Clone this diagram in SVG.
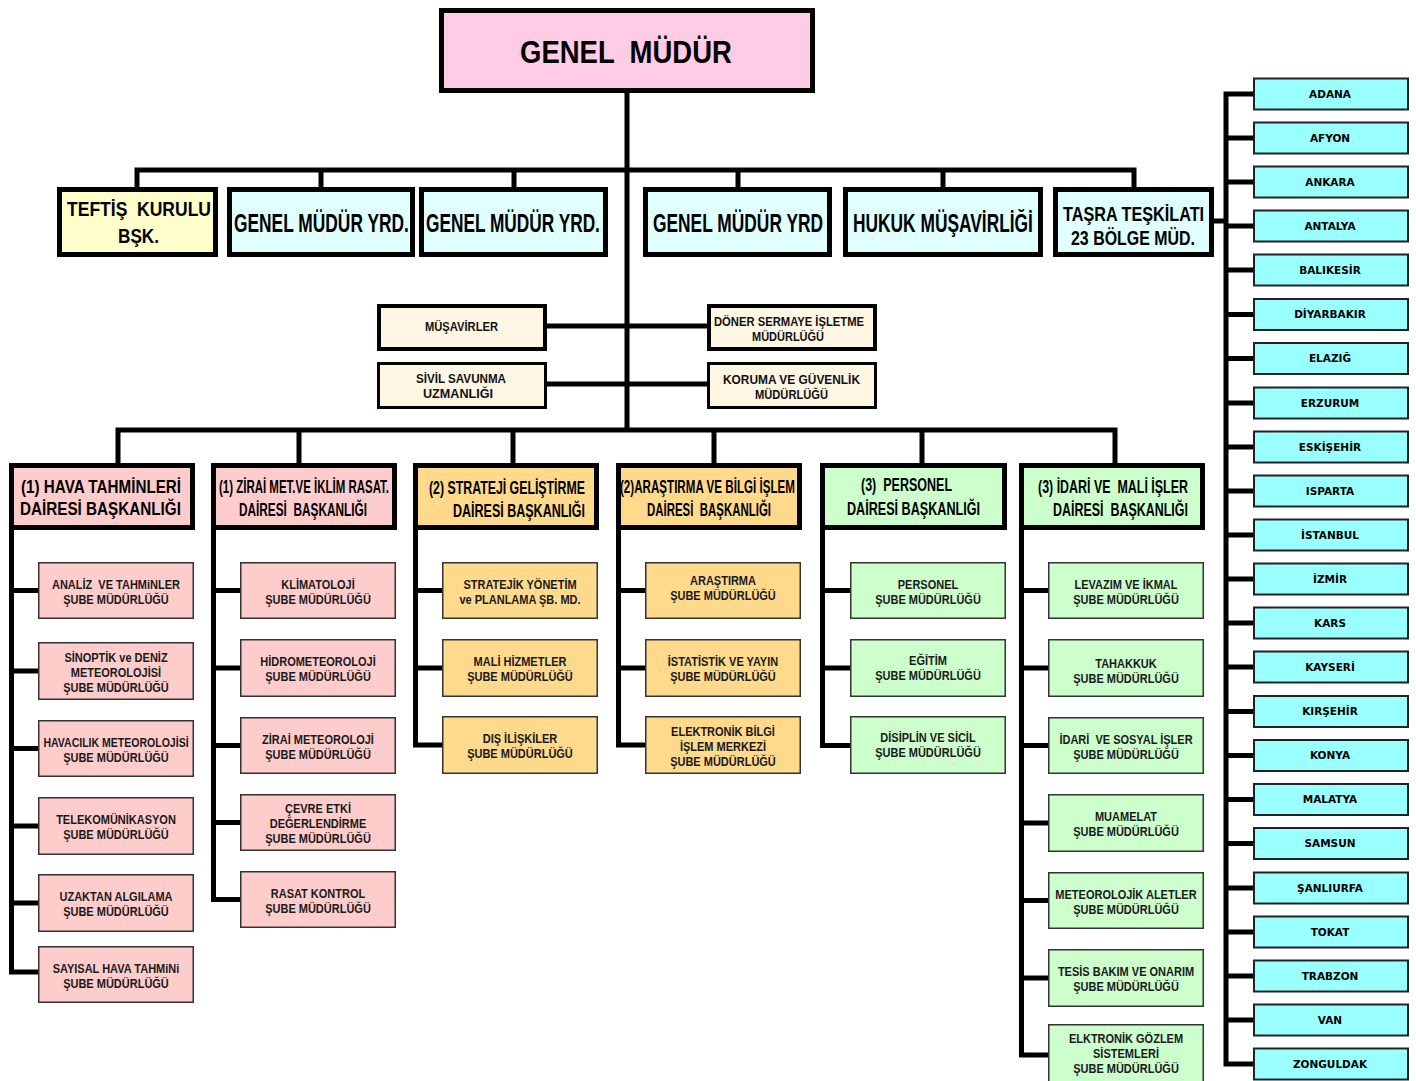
<svg xmlns="http://www.w3.org/2000/svg" width="1416" height="1081" viewBox="0 0 1416 1081">
<style>
.ln{fill:none;stroke:#000;stroke-width:5;stroke-linejoin:miter}
.b5{stroke:#000;stroke-width:5}
.b4{stroke:#000;stroke-width:4}
.b3{stroke:#000;stroke-width:3}
.b1{stroke:#333;stroke-width:1.5}
.b2{stroke:#222;stroke-width:2}
.pk{fill:#FFCCE6}.ye{fill:#FFFFCC}.cy{fill:#E0FFFF}.cr{fill:#FFF6E3}
.rs{fill:#FFCCCC}.or{fill:#FFD98C}.gr{fill:#CCFFCC}.ct{fill:#99FFFF}
.h{font-family:'Liberation Sans',Arial,sans-serif;font-weight:bold;fill:#000;white-space:pre}
.m{font-family:'Liberation Sans',Arial,sans-serif;font-weight:bold;font-size:12px;fill:#111}
.s{font-family:'Liberation Sans',Arial,sans-serif;font-weight:bold;font-size:12.5px;fill:#1a1a1a;text-anchor:middle;transform:scale(0.88,1);white-space:pre}
.c{font-family:'DejaVu Sans',sans-serif;font-weight:bold;font-size:10.5px;fill:#000;text-anchor:middle}
</style>

<g id="connectors">
<path class="ln" d="M627 92V430"/>
<path class="ln" d="M137 187V170H1134V187M321 170V187M514 170V187M738 170V187M943 170V187"/>
<path class="ln" d="M546 326H707M546 384H707"/>
<path class="ln" d="M118 463V430H1115V463M299 430V463M513 430V463M714 430V463M922 430V463"/>
<path class="ln" d="M11.5 529V972H38M11.5 590.5H38M11.5 671H38M11.5 748.5H38M11.5 826H38M11.5 903H38"/>
<path class="ln" d="M213.5 529V899.5H240M213.5 590.5H240M213.5 668H240M213.5 745.5H240M213.5 822.5H240"/>
<path class="ln" d="M415.5 529V745H442M415.5 590.5H442M415.5 668H442"/>
<path class="ln" d="M618.5 529V745H645M618.5 590.5H645M618.5 668H645"/>
<path class="ln" d="M822.5 529V745.5H850M822.5 590.5H850M822.5 668H850"/>
<path class="ln" d="M1021.5 529V1055H1048M1021.5 590.5H1048M1021.5 668H1048M1021.5 745.5H1048M1021.5 823H1048M1021.5 900.5H1048M1021.5 978H1048"/>
<path class="ln" d="M1213 221H1226M1253 94H1226V1064H1253M1226 138H1253M1226 182H1253M1226 226H1253M1226 270H1253M1226 314.5H1253M1226 358.5H1253M1226 403H1253M1226 447H1253M1226 491H1253M1226 535H1253M1226 579H1253M1226 623H1253M1226 667H1253M1226 711.5H1253M1226 755.5H1253M1226 799.5H1253M1226 843.5H1253M1226 888H1253M1226 932H1253M1226 976H1253M1226 1020H1253"/>
</g>

<g id="genel-mudur"><rect class="pk b5" x="441.5" y="10.5" width="371" height="80"/>
<text class="h" transform="translate(520 63) scale(0.858 1)" font-size="32" textLength="247" lengthAdjust="spacingAndGlyphs">GENEL  MÜDÜR</text></g>

<g id="teftis"><rect class="ye b5" x="59.5" y="189.5" width="156" height="65"/>
<text class="h" transform="translate(67 216) scale(0.834 1)" font-size="21" textLength="172.7" lengthAdjust="spacingAndGlyphs">TEFTİŞ  KURULU</text>
<text class="h" transform="translate(118 243) scale(0.817 1)" font-size="21" textLength="50.2" lengthAdjust="spacingAndGlyphs">BŞK.</text></g>
<g id="gmy1"><rect class="cy b5" x="229.5" y="189.5" width="183" height="65"/>
<text class="h" transform="translate(234 232) scale(0.692 1)" font-size="25" textLength="252.8" lengthAdjust="spacingAndGlyphs">GENEL MÜDÜR YRD.</text></g>
<g id="gmy2"><rect class="cy b5" x="421.5" y="189.5" width="184" height="65"/>
<text class="h" transform="translate(426 232) scale(0.688 1)" font-size="25" textLength="252.8" lengthAdjust="spacingAndGlyphs">GENEL MÜDÜR YRD.</text></g>
<g id="gmy3"><rect class="cy b5" x="645.5" y="189.5" width="184" height="65"/>
<text class="h" transform="translate(653 232) scale(0.692 1)" font-size="25" textLength="245.8" lengthAdjust="spacingAndGlyphs">GENEL MÜDÜR YRD</text></g>
<g id="hukuk"><rect class="cy b5" x="845.5" y="189.5" width="195" height="65"/>
<text class="h" transform="translate(853 232) scale(0.689 1)" font-size="25" textLength="261.1" lengthAdjust="spacingAndGlyphs">HUKUK MÜŞAVİRLİĞİ</text></g>
<g id="tasra"><rect class="cy b5" x="1055.5" y="189.5" width="156" height="65"/>
<text class="h" transform="translate(1063 221) scale(0.814 1)" font-size="19.5" textLength="173.3" lengthAdjust="spacingAndGlyphs">TAŞRA TEŞKİLATI</text>
<text class="h" transform="translate(1071 245) scale(0.817 1)" font-size="19.5" textLength="151.7" lengthAdjust="spacingAndGlyphs">23 BÖLGE MÜD.</text></g>

<g id="musavirler"><rect class="cr b4" x="379" y="306" width="166" height="43"/>
<text class="m" x="425" y="331" textLength="73" lengthAdjust="spacingAndGlyphs">MÜŞAVİRLER</text></g>
<g id="doner"><rect class="cr b4" x="709" y="306" width="166" height="43"/>
<text class="m" x="714" y="325.5" textLength="150" lengthAdjust="spacingAndGlyphs">DÖNER SERMAYE İŞLETME</text>
<text class="m" x="752" y="341" textLength="72" lengthAdjust="spacingAndGlyphs">MÜDÜRLÜĞÜ</text></g>
<g id="sivil"><rect class="cr b3" x="378.5" y="363.5" width="167" height="44"/>
<text class="m" x="416" y="383" textLength="90" lengthAdjust="spacingAndGlyphs">SİVİL SAVUNMA</text>
<text class="m" x="423" y="398" textLength="70" lengthAdjust="spacingAndGlyphs">UZMANLIĞI</text></g>
<g id="koruma"><rect class="cr b3" x="708.5" y="363.5" width="167" height="44"/>
<text class="m" x="723" y="384" textLength="137" lengthAdjust="spacingAndGlyphs">KORUMA VE GÜVENLİK</text>
<text class="m" x="755" y="399" textLength="73" lengthAdjust="spacingAndGlyphs">MÜDÜRLÜĞÜ</text></g>

<g id="d1"><rect class="rs b5" x="11.5" y="465.5" width="181" height="62"/>
<text class="h" transform="translate(21 492.5) scale(0.825 1)" font-size="18" textLength="194" lengthAdjust="spacingAndGlyphs">(1) HAVA TAHMİNLERİ</text>
<text class="h" transform="translate(20 514.5) scale(0.847 1)" font-size="18" textLength="190" lengthAdjust="spacingAndGlyphs">DAİRESİ BAŞKANLIĞI</text></g>
<g id="d2"><rect class="rs b5" x="213.5" y="465.5" width="181" height="62"/>
<text class="h" transform="translate(219 493) scale(0.625 1)" font-size="18" textLength="272" lengthAdjust="spacingAndGlyphs">(1) ZİRAİ MET.VE İKLİM RASAT.</text>
<text class="h" transform="translate(239 515.5) scale(0.656 1)" font-size="18" textLength="195" lengthAdjust="spacingAndGlyphs">DAİRESİ  BAŞKANLIĞI</text></g>
<g id="d3"><rect class="or b5" x="415.5" y="465.5" width="181" height="62"/>
<text class="h" transform="translate(429 494) scale(0.681 1)" font-size="18" textLength="229" lengthAdjust="spacingAndGlyphs">(2) STRATEJİ GELİŞTİRME</text>
<text class="h" transform="translate(453 516.5) scale(0.695 1)" font-size="18" textLength="190" lengthAdjust="spacingAndGlyphs">DAİRESİ BAŞKANLIĞI</text></g>
<g id="d4"><rect class="or b5" x="618.5" y="465.5" width="181" height="62"/>
<text class="h" transform="translate(620 493) scale(0.643 1)" font-size="18" textLength="272" lengthAdjust="spacingAndGlyphs">(2)ARAŞTIRMA VE BİLGİ İŞLEM</text>
<text class="h" transform="translate(647 515.5) scale(0.636 1)" font-size="18" textLength="195" lengthAdjust="spacingAndGlyphs">DAİRESİ  BAŞKANLIĞI</text></g>
<g id="d5"><rect class="gr b5" x="822.5" y="465.5" width="182" height="62"/>
<text class="h" transform="translate(861 491) scale(0.695 1)" font-size="18" textLength="131" lengthAdjust="spacingAndGlyphs">(3)  PERSONEL</text>
<text class="h" transform="translate(847 514.5) scale(0.7 1)" font-size="18" textLength="190" lengthAdjust="spacingAndGlyphs">DAİRESİ BAŞKANLIĞI</text></g>
<g id="d6"><rect class="gr b5" x="1021.5" y="465.5" width="181" height="62"/>
<text class="h" transform="translate(1038 493) scale(0.691 1)" font-size="18" textLength="217" lengthAdjust="spacingAndGlyphs">(3) İDARİ VE  MALİ İŞLER</text>
<text class="h" transform="translate(1053 515.5) scale(0.692 1)" font-size="18" textLength="195" lengthAdjust="spacingAndGlyphs">DAİRESİ  BAŞKANLIĞI</text></g>

<g id="c1-1"><rect class="rs b1" x="38.75" y="562.75" width="154.5" height="55.5"/>
<text class="s" x="131.82" y="589">ANALİZ  VE TAHMiNLER</text><text class="s" x="131.82" y="604">ŞUBE MÜDÜRLÜĞÜ</text></g>
<g id="c1-2"><rect class="rs b1" x="38.75" y="642.75" width="154.5" height="56.5"/>
<text class="s" x="131.82" y="662">SİNOPTİK ve DENİZ</text><text class="s" x="131.82" y="677">METEOROLOJİSİ</text><text class="s" x="131.82" y="692">ŞUBE MÜDÜRLÜĞÜ</text></g>
<g id="c1-3"><rect class="rs b1" x="38.75" y="720.75" width="154.5" height="55.5"/>
<text class="s" x="131.82" y="747" textLength="165" lengthAdjust="spacingAndGlyphs">HAVACILIK METEOROLOJİSİ</text><text class="s" x="131.82" y="762">ŞUBE MÜDÜRLÜĞÜ</text></g>
<g id="c1-4"><rect class="rs b1" x="38.75" y="797.75" width="154.5" height="56.5"/>
<text class="s" x="131.82" y="824.5">TELEKOMÜNİKASYON</text><text class="s" x="131.82" y="839.5">ŞUBE MÜDÜRLÜĞÜ</text></g>
<g id="c1-5"><rect class="rs b1" x="38.75" y="874.75" width="154.5" height="56.5"/>
<text class="s" x="131.82" y="901.5">UZAKTAN ALGILAMA</text><text class="s" x="131.82" y="916.5">ŞUBE MÜDÜRLÜĞÜ</text></g>
<g id="c1-6"><rect class="rs b1" x="38.75" y="946.75" width="154.5" height="55.5"/>
<text class="s" x="131.82" y="973">SAYISAL HAVA TAHMiNi</text><text class="s" x="131.82" y="988">ŞUBE MÜDÜRLÜĞÜ</text></g>

<g id="c2-1"><rect class="rs b1" x="240.75" y="562.75" width="154.5" height="55.5"/>
<text class="s" x="361.36" y="589">KLİMATOLOJİ</text><text class="s" x="361.36" y="604">ŞUBE MÜDÜRLÜĞÜ</text></g>
<g id="c2-2"><rect class="rs b1" x="240.75" y="639.75" width="154.5" height="56.5"/>
<text class="s" x="361.36" y="666.5">HİDROMETEOROLOJİ</text><text class="s" x="361.36" y="681.5">ŞUBE MÜDÜRLÜĞÜ</text></g>
<g id="c2-3"><rect class="rs b1" x="240.75" y="717.75" width="154.5" height="55.5"/>
<text class="s" x="361.36" y="744">ZİRAİ METEOROLOJİ</text><text class="s" x="361.36" y="759">ŞUBE MÜDÜRLÜĞÜ</text></g>
<g id="c2-4"><rect class="rs b1" x="240.75" y="794.75" width="154.5" height="55.5"/>
<text class="s" x="361.36" y="813.5">ÇEVRE ETKİ</text><text class="s" x="361.36" y="828.5">DEĞERLENDİRME</text><text class="s" x="361.36" y="843.5">ŞUBE MÜDÜRLÜĞÜ</text></g>
<g id="c2-5"><rect class="rs b1" x="240.75" y="871.75" width="154.5" height="55.5"/>
<text class="s" x="361.36" y="898">RASAT KONTROL</text><text class="s" x="361.36" y="913">ŞUBE MÜDÜRLÜĞÜ</text></g>

<g id="c3-1"><rect class="or b1" x="442.75" y="562.75" width="154.5" height="55.5"/>
<text class="s" x="590.91" y="589">STRATEJİK YÖNETİM</text><text class="s" x="590.91" y="604">ve PLANLAMA ŞB. MD.</text></g>
<g id="c3-2"><rect class="or b1" x="442.75" y="639.75" width="154.5" height="56.5"/>
<text class="s" x="590.91" y="666.5">MALİ HİZMETLER</text><text class="s" x="590.91" y="681.5">ŞUBE MÜDÜRLÜĞÜ</text></g>
<g id="c3-3"><rect class="or b1" x="442.75" y="716.75" width="154.5" height="56.5"/>
<text class="s" x="590.91" y="743.5">DIŞ İLİŞKİLER</text><text class="s" x="590.91" y="758.5">ŞUBE MÜDÜRLÜĞÜ</text></g>

<g id="c4-1"><rect class="or b1" x="645.75" y="562.75" width="154.5" height="55.5"/>
<text class="s" x="821.59" y="585.5">ARAŞTIRMA</text><text class="s" x="821.59" y="600.5">ŞUBE MÜDÜRLÜĞÜ</text></g>
<g id="c4-2"><rect class="or b1" x="645.75" y="639.75" width="154.5" height="56.5"/>
<text class="s" x="821.59" y="666.5">İSTATİSTİK VE YAYIN</text><text class="s" x="821.59" y="681.5">ŞUBE MÜDÜRLÜĞÜ</text></g>
<g id="c4-3"><rect class="or b1" x="645.75" y="716.75" width="154.5" height="56.5"/>
<text class="s" x="821.59" y="736">ELEKTRONİK BİLGİ</text><text class="s" x="821.59" y="751">İŞLEM MERKEZİ</text><text class="s" x="821.59" y="766">ŞUBE MÜDÜRLÜĞÜ</text></g>

<g id="c5-1"><rect class="gr b1" x="850.75" y="562.75" width="154.5" height="55.5"/>
<text class="s" x="1054.55" y="589">PERSONEL</text><text class="s" x="1054.55" y="604">ŞUBE MÜDÜRLÜĞÜ</text></g>
<g id="c5-2"><rect class="gr b1" x="850.75" y="639.75" width="154.5" height="56.5"/>
<text class="s" x="1054.55" y="665">EĞİTİM</text><text class="s" x="1054.55" y="680">ŞUBE MÜDÜRLÜĞÜ</text></g>
<g id="c5-3"><rect class="gr b1" x="850.75" y="716.75" width="154.5" height="56.5"/>
<text class="s" x="1054.55" y="742">DİSİPLİN VE SİCİL</text><text class="s" x="1054.55" y="757">ŞUBE MÜDÜRLÜĞÜ</text></g>

<g id="c6-1"><rect class="gr b1" x="1048.75" y="562.75" width="154.5" height="55.5"/>
<text class="s" x="1279.55" y="589">LEVAZIM VE İKMAL</text><text class="s" x="1279.55" y="604">ŞUBE MÜDÜRLÜĞÜ</text></g>
<g id="c6-2"><rect class="gr b1" x="1048.75" y="639.75" width="154.5" height="56.5"/>
<text class="s" x="1279.55" y="668">TAHAKKUK</text><text class="s" x="1279.55" y="683">ŞUBE MÜDÜRLÜĞÜ</text></g>
<g id="c6-3"><rect class="gr b1" x="1048.75" y="717.75" width="154.5" height="55.5"/>
<text class="s" x="1279.55" y="744">İDARİ  VE SOSYAL İŞLER</text><text class="s" x="1279.55" y="759">ŞUBE MÜDÜRLÜĞÜ</text></g>
<g id="c6-4"><rect class="gr b1" x="1048.75" y="794.75" width="154.5" height="56.5"/>
<text class="s" x="1279.55" y="821">MUAMELAT</text><text class="s" x="1279.55" y="836">ŞUBE MÜDÜRLÜĞÜ</text></g>
<g id="c6-5"><rect class="gr b1" x="1048.75" y="872.75" width="154.5" height="55.5"/>
<text class="s" x="1279.55" y="899">METEOROLOJİK ALETLER</text><text class="s" x="1279.55" y="914">ŞUBE MÜDÜRLÜĞÜ</text></g>
<g id="c6-6"><rect class="gr b1" x="1048.75" y="949.75" width="154.5" height="56.5"/>
<text class="s" x="1279.55" y="976.5">TESİS BAKIM VE ONARIM</text><text class="s" x="1279.55" y="991.5">ŞUBE MÜDÜRLÜĞÜ</text></g>
<g id="c6-7"><rect class="gr b1" x="1048.75" y="1024.75" width="154.5" height="57"/>
<text class="s" x="1279.55" y="1043">ELKTRONİK GÖZLEM</text><text class="s" x="1279.55" y="1058">SİSTEMLERİ</text><text class="s" x="1279.55" y="1073">ŞUBE MÜDÜRLÜĞÜ</text></g>

<g id="cities">
<g id="city-adana"><rect class="ct b2" x="1254" y="78.5" width="154" height="31"/><text class="c" x="1330" y="97.5">ADANA</text></g>
<g id="city-afyon"><rect class="ct b2" x="1254" y="122.5" width="154" height="31"/><text class="c" x="1330" y="141.5">AFYON</text></g>
<g id="city-ankara"><rect class="ct b2" x="1254" y="166.5" width="154" height="31"/><text class="c" x="1330" y="185.5">ANKARA</text></g>
<g id="city-antalya"><rect class="ct b2" x="1254" y="210.5" width="154" height="31"/><text class="c" x="1330" y="229.5">ANTALYA</text></g>
<g id="city-balikesir"><rect class="ct b2" x="1254" y="254.5" width="154" height="31"/><text class="c" x="1330" y="273.5">BALIKESİR</text></g>
<g id="city-diyarbakir"><rect class="ct b2" x="1254" y="299" width="154" height="31"/><text class="c" x="1330" y="318">DİYARBAKIR</text></g>
<g id="city-elazig"><rect class="ct b2" x="1254" y="343" width="154" height="31"/><text class="c" x="1330" y="362">ELAZIĞ</text></g>
<g id="city-erzurum"><rect class="ct b2" x="1254" y="387.5" width="154" height="31"/><text class="c" x="1330" y="406.5">ERZURUM</text></g>
<g id="city-eskisehir"><rect class="ct b2" x="1254" y="431.5" width="154" height="31"/><text class="c" x="1330" y="450.5">ESKİŞEHİR</text></g>
<g id="city-isparta"><rect class="ct b2" x="1254" y="475.5" width="154" height="31"/><text class="c" x="1330" y="494.5">ISPARTA</text></g>
<g id="city-istanbul"><rect class="ct b2" x="1254" y="519.5" width="154" height="31"/><text class="c" x="1330" y="538.5">İSTANBUL</text></g>
<g id="city-izmir"><rect class="ct b2" x="1254" y="563.5" width="154" height="31"/><text class="c" x="1330" y="582.5">İZMİR</text></g>
<g id="city-kars"><rect class="ct b2" x="1254" y="607.5" width="154" height="31"/><text class="c" x="1330" y="626.5">KARS</text></g>
<g id="city-kayseri"><rect class="ct b2" x="1254" y="651.5" width="154" height="31"/><text class="c" x="1330" y="670.5">KAYSERİ</text></g>
<g id="city-kirsehir"><rect class="ct b2" x="1254" y="696" width="154" height="31"/><text class="c" x="1330" y="715">KIRŞEHİR</text></g>
<g id="city-konya"><rect class="ct b2" x="1254" y="740" width="154" height="31"/><text class="c" x="1330" y="759">KONYA</text></g>
<g id="city-malatya"><rect class="ct b2" x="1254" y="784" width="154" height="31"/><text class="c" x="1330" y="803">MALATYA</text></g>
<g id="city-samsun"><rect class="ct b2" x="1254" y="828" width="154" height="31"/><text class="c" x="1330" y="847">SAMSUN</text></g>
<g id="city-sanliurfa"><rect class="ct b2" x="1254" y="872.5" width="154" height="31"/><text class="c" x="1330" y="891.5">ŞANLIURFA</text></g>
<g id="city-tokat"><rect class="ct b2" x="1254" y="916.5" width="154" height="31"/><text class="c" x="1330" y="935.5">TOKAT</text></g>
<g id="city-trabzon"><rect class="ct b2" x="1254" y="960.5" width="154" height="31"/><text class="c" x="1330" y="979.5">TRABZON</text></g>
<g id="city-van"><rect class="ct b2" x="1254" y="1004.5" width="154" height="31"/><text class="c" x="1330" y="1023.5">VAN</text></g>
<g id="city-zonguldak"><rect class="ct b2" x="1254" y="1048.5" width="154" height="31"/><text class="c" x="1330" y="1067.5">ZONGULDAK</text></g>
</g>
</svg>
